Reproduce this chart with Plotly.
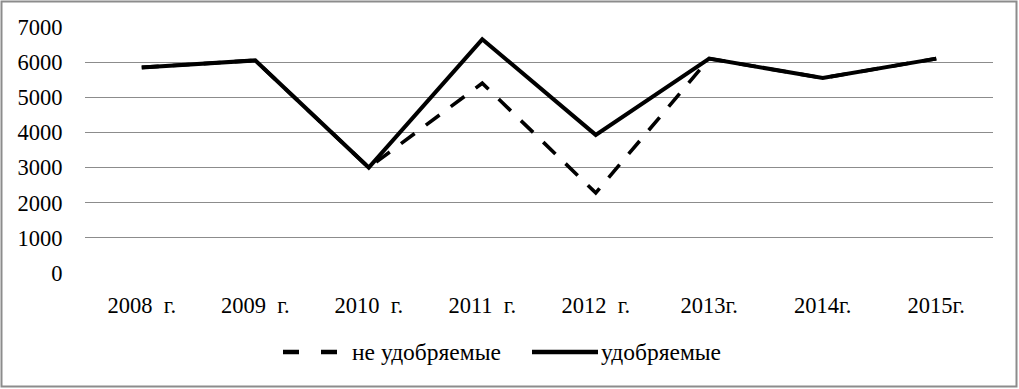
import plotly.graph_objects as go

years = ["2008\u00a0 г.", "2009\u00a0 г.", "2010\u00a0 г.", "2011\u00a0 г.", "2012\u00a0 г.", "2013г.", "2014г.", "2015г."]
not_fertilized = [5850, 6050, 3000, 5400, 2280, 6100, 5550, 6100]
fertilized = [5850, 6050, 3000, 6650, 3930, 6100, 5550, 6100]
series_names = ["не удобряемые", "удобряемые"]
y_ticks = [0, 1000, 2000, 3000, 4000, 5000, 6000, 7000]

W, H = 1019, 389
L, R, T, B = 85, 26, 27, 116
pw = W - L - R
ph = H - T - B


def px_x(x):
    return (x - L) / pw


def px_y(y):
    return (H - B - y) / ph


styles = [dict(color="black", width=3.6, dash="17px,14px"),
          dict(color="black", width=4)]

fig = go.Figure()
for name, vals, st in zip(series_names, [not_fertilized, fertilized], styles):
    fig.add_trace(go.Scatter(x=years, y=vals, mode="lines", name=name, line=st,
                             showlegend=False))

# outer frame
fig.add_shape(type="rect", xref="paper", yref="paper",
              x0=px_x(1.5), x1=px_x(W - 2.5), y0=px_y(H - 2.5), y1=px_y(1.5),
              line=dict(color="#8c8c8c", width=2), layer="below")

FONT = "Times New Roman"
# custom legend
leg_y = px_y(352)
legend_items = [(283, 338, 350, dict(color="black", width=4.5, dash="16px,22px")),
                (532, 598, 599, dict(color="black", width=4.5))]
for name, (sx0, sx1, tx, st) in zip(series_names, legend_items):
    fig.add_shape(type="line", xref="paper", yref="paper",
                  x0=px_x(sx0), x1=px_x(sx1), y0=leg_y, y1=leg_y, line=st)
    fig.add_annotation(xref="paper", yref="paper", x=px_x(tx), y=leg_y,
                       xanchor="left", yanchor="middle", showarrow=False, text=name,
                       font=dict(family=FONT, size=23.5, color="black"))

fig.update_layout(
    width=W, height=H,
    margin=dict(l=L, r=R, t=T, b=B),
    paper_bgcolor="white", plot_bgcolor="white",
    font=dict(family=FONT, size=22, color="black"),
    showlegend=False,
    xaxis=dict(range=[-0.5, 7.5], showgrid=False, zeroline=False, showline=False,
               ticks="outside", ticklen=12, tickcolor="rgba(0,0,0,0)",
               tickfont=dict(family=FONT, size=22.5)),
    yaxis=dict(range=[0, 7000], tickvals=y_ticks, showgrid=True, gridcolor="#8c8c8c",
               gridwidth=1.3, zeroline=False, showline=False, ticks="outside",
               ticklen=17, tickcolor="rgba(0,0,0,0)", tickfont=dict(family=FONT, size=22.5)),
)

fig.write_html("out.html")
